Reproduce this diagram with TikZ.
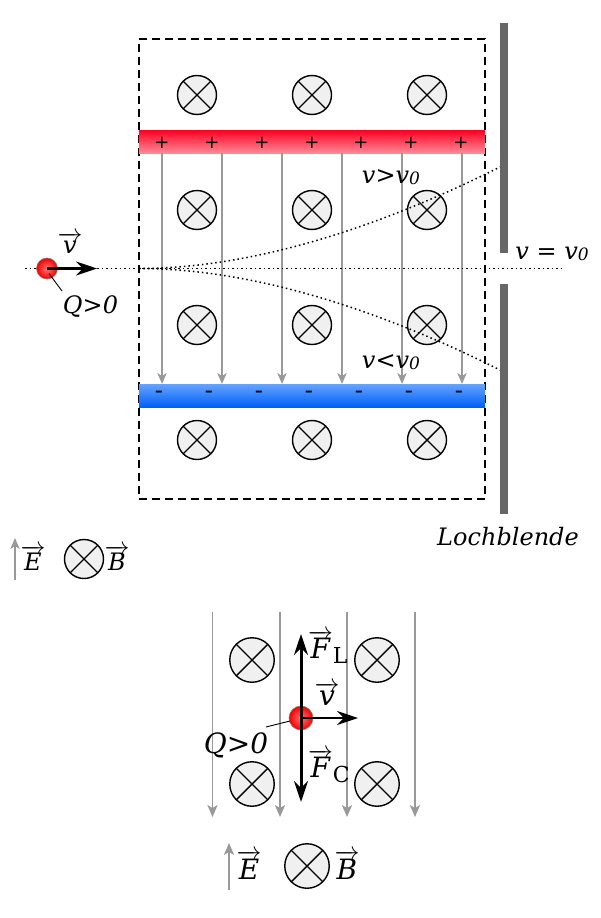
\documentclass[tikz,border=0pt]{standalone}
\usepackage{fontspec}
\setmainfont{DejaVu Serif}
\usetikzlibrary{arrows.meta,shadings}
\definecolor{fieldgray}{HTML}{999999}
\definecolor{discfill}{HTML}{F0F0F0}
\definecolor{plategray}{HTML}{666666}
\definecolor{redtop}{HTML}{FF0020}
\definecolor{redbot}{HTML}{FF8A98}
\definecolor{bluetop}{HTML}{66A3FF}
\definecolor{bluebot}{HTML}{0060F8}
\tikzset{
  x=1pt,y=-1pt,
  txt/.style={inner sep=0pt,outer sep=0pt,font=\itshape\fontsize{#1}{#1}\selectfont},
  txt/.default=24,
  bdisc/.style={circle,draw=black,line width=1.4pt,fill=discfill,minimum size=#1,inner sep=0pt,path picture={
     \draw[line width=1.4pt] (path picture bounding box.center) ++(-45:0.5*#1) -- ++(135:#1);
     \draw[line width=1.4pt] (path picture bounding box.center) ++(45:0.5*#1) -- ++(225:#1);}},
  fieldline/.style={draw=fieldgray,line width=1.5pt,-{Stealth[length=#1,width=#1*0.85,inset=3pt]}},
  fieldline/.default=11pt,
  force/.style={draw=black,line width=#1,-{Stealth[length=21pt,width=14pt,inset=7pt]}},
  force/.default=2.2pt,
  traj/.style={draw=black,line width=1.5pt,dash pattern=on 1.5pt off 3pt},
  lead/.style={draw=black,line width=0.9pt},
  plate/.style={draw=none,fill=plategray,minimum width=8pt,inner sep=0pt},
  charge/.style={circle,draw=black!50,line width=0.6pt,inner sep=0pt,minimum size=#1,inner color=red!55!white,outer color=red!95!black,shading=radial},
  sign/.style={inner sep=0pt,font=\fontsize{#1}{#1}\selectfont},
}
\newcommand{\vv}[1]{$\overrightarrow{\mbox{#1}}$}
\newcommand{\zsub}{\raisebox{-1.5pt}{\fontsize{17}{17}\selectfont 0}}
\newcommand{\fsub}[1]{\raisebox{-5pt}{\upshape\fontsize{22}{22}\selectfont #1}}
\begin{document}
\begin{tikzpicture}
\useasboundingbox (0,0) rectangle (600,918);
% upper frame
\node[draw=black,line width=1.25pt,dash pattern=on 8pt off 5pt,minimum width=346pt,minimum height=460pt,inner sep=0pt] (frame) at (312,269) {};
% discs
\foreach \n/\x/\y in {a/197/95,b/312/95,c/427/95,d/197/210,e/312/210,f/427/210,g/197/325,h/312/325,i/427/325,j/197/440,k/312/440,l/427/440}
  \node[bdisc=39pt] (\n) at (\x,\y) {};
% plates with gradient
\node[minimum width=346pt,minimum height=23pt,inner sep=0pt,top color=redtop,bottom color=redbot,draw=none] (plus) at (312,141.5) {};
\node[minimum width=346pt,minimum height=23pt,inner sep=0pt,top color=bluetop,bottom color=bluebot,draw=none] (minus) at (312,395.5) {};
% field lines
\foreach \x in {162,222,282,342,402,462}{
  \coordinate (ft\x) at (\x,153);
  \coordinate (fb\x) at (\x,384);
  \draw[fieldline] (ft\x) -- (fb\x);
}
\foreach \x in {162,212,262,312,361,411,461}
  \node[sign=18] (p\x) at (\x,142.5) {+};
\foreach \x in {159,209,259,309,359,409,459}
  \node[sign=24] (m\x) at (\x,395) {-};
% aperture
\node[plate,minimum height=230pt] (bl1) at (504,138) {};
\node[plate,minimum height=230pt] (bl2) at (504,399) {};
% trajectories
\coordinate (tstart) at (25,268.5);
\coordinate (tfork) at (139,268.5);
\coordinate (tend) at (563,268.5);
\coordinate (tup) at (500,167);
\coordinate (tdown) at (500,370);
\draw[traj] (tstart) -- (tend);
\draw[traj] (tfork) .. controls (260,268.5) and (390,222) .. (tup);
\draw[traj] (tfork) .. controls (260,268.5) and (390,315) .. (tdown);
% particle
\coordinate (qlab1) at (62,291);
\node[charge=21pt] (q1) at (47,268.5) {};
\draw[lead] (q1.center) ++(2,5) -- (qlab1);
\coordinate (v1) at (97,268.5);
\draw[force] (q1.center) -- (v1);
\node[txt] (lv1) at (70,243) {\vv{v}};
\node[txt] (lq1) at (90.5,307) {Q>0};
\node[txt] (lgt) at (391,177) {v>v\zsub};
\node[txt] (llt) at (391,362) {v<v\zsub};
\node[txt] (leq) at (552,254) {v = v\zsub};
\node[txt] (loch) at (508,537) {Lochblende};
% first legend
\coordinate (e1a) at (15,580);
\coordinate (e1b) at (15,538);
\draw[fieldline] (e1a) -- (e1b);
\node[txt] (le1) at (33,558) {\vv{E}};
\node[bdisc=39pt] (b1) at (84,559) {};
\node[txt] (lb1) at (117,558) {\vv{B}};
% lower diagram
\foreach \n/\x in {1/212.5,2/280,3/347,4/415}{
  \coordinate (gt\n) at (\x,612);
  \coordinate (gb\n) at (\x,817);
  \draw[fieldline=12pt] (gt\n) -- (gb\n);
}
\foreach \n/\x/\y in {m/252/660,n/377/660,o/252/784,r/377/784}
  \node[bdisc=44.5pt] (\n) at (\x,\y) {};
\node[charge=24pt] (q2) at (301,718) {};
\coordinate (fl) at (301,634);
\coordinate (fc) at (301,802);
\coordinate (v2) at (358,718);
\coordinate (qlab2) at (266,727);
\draw[force=3pt] (q2.center) -- (fl);
\draw[force=3pt] (q2.center) -- (fc);
\draw[force] (q2.center) -- (v2);
\draw[lead] (q2.center) ++(-11,3) -- (qlab2);
\node[txt=28,anchor=west] (lf1) at (308,647) {\vv{F}\fsub{L}};
\node[txt=28,anchor=west] (lf2) at (308,766) {\vv{F}\fsub{C}};
\node[txt=28] (lv2) at (327,694) {\vv{v}};
\node[txt=28] (lq2) at (236,745) {Q>0};
\coordinate (e2a) at (229,890);
\coordinate (e2b) at (229,843);
\draw[fieldline=12pt] (e2a) -- (e2b);
\node[txt=28] (le2) at (249,865) {\vv{E}};
\node[bdisc=44.5pt] (b2) at (307,866) {};
\node[txt=28] (lb2) at (347,865) {\vv{B}};
\end{tikzpicture}
\end{document}
